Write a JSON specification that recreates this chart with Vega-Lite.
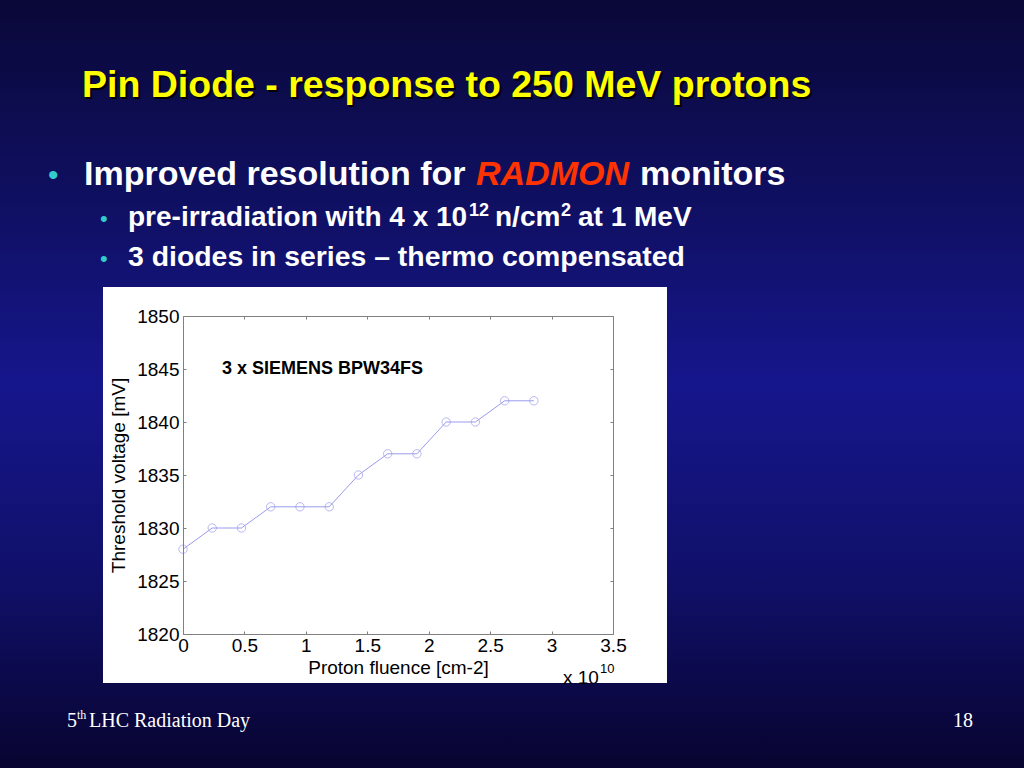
{
  "$schema": "https://vega.github.io/schema/vega-lite/v6.json",
  "width": 430,
  "height": 318,
  "autosize": "none",
  "padding": {"left": 183, "top": 316, "right": 411, "bottom": 134},
  "background": "#0c0c48",
  "config": {"view": {"stroke": null}},
  "data": {"values": [
    {"fluence": 0.0, "voltage": 1828},
    {"fluence": 0.238, "voltage": 1830},
    {"fluence": 0.476, "voltage": 1830},
    {"fluence": 0.714, "voltage": 1832},
    {"fluence": 0.952, "voltage": 1832},
    {"fluence": 1.19, "voltage": 1832},
    {"fluence": 1.428, "voltage": 1835},
    {"fluence": 1.666, "voltage": 1837},
    {"fluence": 1.904, "voltage": 1837},
    {"fluence": 2.142, "voltage": 1840},
    {"fluence": 2.38, "voltage": 1840},
    {"fluence": 2.618, "voltage": 1842},
    {"fluence": 2.856, "voltage": 1842}
  ]},
  "resolve": {"axis": {"x": "independent", "y": "independent"}},
  "layer": [
    {
      "data": {"values": [{}]},
      "mark": {"type": "rect", "fill": {"gradient": "linear", "x1": 0, "y1": 0, "x2": 0, "y2": 1, "stops": [
        {"offset": 0, "color": "#0a0838"},
        {"offset": 0.25, "color": "#0f0f60"},
        {"offset": 0.5, "color": "#16168c"},
        {"offset": 0.75, "color": "#10106a"},
        {"offset": 1, "color": "#080430"}
      ]}},
      "encoding": {
        "x": {"datum": -1.4895, "type": "quantitative", "axis": null, "scale": {"domain": [0, 3.5], "nice": false, "zero": false}},
        "x2": {"datum": 6.8453},
        "y": {"datum": 1879.81, "type": "quantitative", "axis": null, "scale": {"domain": [1820, 1850], "nice": false, "zero": false}},
        "y2": {"datum": 1807.36}
      }
    },
    {
      "data": {"values": [{}]},
      "mark": {"type": "rect", "fill": "#ffffff"},
      "encoding": {
        "x": {"datum": -0.6512, "type": "quantitative", "axis": null},
        "x2": {"datum": 3.9395},
        "y": {"datum": 1852.736, "type": "quantitative", "axis": null},
        "y2": {"datum": 1815.377}
      }
    },
    {
      "data": {"values": [{}]},
      "mark": {"type": "text", "text": "Pin Diode -  response to 250 MeV protons", "font": "Liberation Sans", "fontWeight": "bold", "fontSize": 37.5, "color": "#000000", "align": "left", "baseline": "alphabetic"},
      "encoding": {"x": {"datum": -0.8058, "type": "quantitative", "axis": null}, "y": {"datum": 1870.47, "type": "quantitative", "axis": null}}
    },
    {
      "data": {"values": [{}]},
      "mark": {"type": "text", "text": "Pin Diode -  response to 250 MeV protons", "font": "Liberation Sans", "fontWeight": "bold", "fontSize": 37.5, "color": "#ffff00", "align": "left", "baseline": "alphabetic"},
      "encoding": {"x": {"datum": -0.8221, "type": "quantitative", "axis": null}, "y": {"datum": 1870.66, "type": "quantitative", "axis": null}}
    },
    {
      "data": {"values": [{}]},
      "mark": {"type": "text", "text": "•", "font": "Liberation Sans", "fontSize": 30, "color": "#33cccc", "align": "left", "baseline": "alphabetic"},
      "encoding": {"x": {"datum": -1.0988, "type": "quantitative", "axis": null}, "y": {"datum": 1862.36, "type": "quantitative", "axis": null}}
    },
    {
      "data": {"values": [{}]},
      "mark": {"type": "text", "text": "Improved resolution for", "font": "Liberation Sans", "fontWeight": "bold", "fontSize": 34, "color": "#ffffff", "align": "left", "baseline": "alphabetic"},
      "encoding": {"x": {"datum": -0.8058, "type": "quantitative", "axis": null}, "y": {"datum": 1862.36, "type": "quantitative", "axis": null}}
    },
    {
      "data": {"values": [{}]},
      "mark": {"type": "text", "text": "RADMON", "font": "Liberation Sans", "fontWeight": "bold", "fontStyle": "italic", "fontSize": 34, "color": "#ff3300", "align": "left", "baseline": "alphabetic"},
      "encoding": {"x": {"datum": 2.3849, "type": "quantitative", "axis": null}, "y": {"datum": 1862.36, "type": "quantitative", "axis": null}}
    },
    {
      "data": {"values": [{}]},
      "mark": {"type": "text", "text": "monitors", "font": "Liberation Sans", "fontWeight": "bold", "fontSize": 34, "color": "#ffffff", "align": "left", "baseline": "alphabetic"},
      "encoding": {"x": {"datum": 3.7198, "type": "quantitative", "axis": null}, "y": {"datum": 1862.36, "type": "quantitative", "axis": null}}
    },
    {
      "data": {"values": [{}]},
      "mark": {"type": "text", "text": "•", "font": "Liberation Sans", "fontSize": 22, "color": "#33cccc", "align": "left", "baseline": "alphabetic"},
      "encoding": {"x": {"datum": -0.6756, "type": "quantitative", "axis": null}, "y": {"datum": 1858.49, "type": "quantitative", "axis": null}}
    },
    {
      "data": {"values": [{}]},
      "mark": {"type": "text", "text": "pre-irradiation with 4 x 10", "font": "Liberation Sans", "fontWeight": "bold", "fontSize": 28, "color": "#ffffff", "align": "left", "baseline": "alphabetic"},
      "encoding": {"x": {"datum": -0.4477, "type": "quantitative", "axis": null}, "y": {"datum": 1858.49, "type": "quantitative", "axis": null}}
    },
    {
      "data": {"values": [{}]},
      "mark": {"type": "text", "text": "12", "font": "Liberation Sans", "fontWeight": "bold", "fontSize": 18, "color": "#ffffff", "align": "left", "baseline": "alphabetic"},
      "encoding": {"x": {"datum": 2.3279, "type": "quantitative", "axis": null}, "y": {"datum": 1859.43, "type": "quantitative", "axis": null}}
    },
    {
      "data": {"values": [{}]},
      "mark": {"type": "text", "text": "n/cm", "font": "Liberation Sans", "fontWeight": "bold", "fontSize": 28, "color": "#ffffff", "align": "left", "baseline": "alphabetic"},
      "encoding": {"x": {"datum": 2.5395, "type": "quantitative", "axis": null}, "y": {"datum": 1858.49, "type": "quantitative", "axis": null}}
    },
    {
      "data": {"values": [{}]},
      "mark": {"type": "text", "text": "2", "font": "Liberation Sans", "fontWeight": "bold", "fontSize": 18, "color": "#ffffff", "align": "left", "baseline": "alphabetic"},
      "encoding": {"x": {"datum": 3.0767, "type": "quantitative", "axis": null}, "y": {"datum": 1859.43, "type": "quantitative", "axis": null}}
    },
    {
      "data": {"values": [{}]},
      "mark": {"type": "text", "text": "at 1 MeV", "font": "Liberation Sans", "fontWeight": "bold", "fontSize": 28, "color": "#ffffff", "align": "left", "baseline": "alphabetic"},
      "encoding": {"x": {"datum": 3.2151, "type": "quantitative", "axis": null}, "y": {"datum": 1858.49, "type": "quantitative", "axis": null}}
    },
    {
      "data": {"values": [{}]},
      "mark": {"type": "text", "text": "•", "font": "Liberation Sans", "fontSize": 22, "color": "#33cccc", "align": "left", "baseline": "alphabetic"},
      "encoding": {"x": {"datum": -0.6756, "type": "quantitative", "axis": null}, "y": {"datum": 1854.72, "type": "quantitative", "axis": null}}
    },
    {
      "data": {"values": [{}]},
      "mark": {"type": "text", "text": "3 diodes in series – thermo compensated", "font": "Liberation Sans", "fontWeight": "bold", "fontSize": 28.4, "color": "#ffffff", "align": "left", "baseline": "alphabetic"},
      "encoding": {"x": {"datum": -0.4477, "type": "quantitative", "axis": null}, "y": {"datum": 1854.72, "type": "quantitative", "axis": null}}
    },
    {
      "data": {"values": [{}]},
      "mark": {"type": "text", "text": "3 x SIEMENS BPW34FS", "font": "Liberation Sans", "fontWeight": "bold", "fontSize": 18, "color": "#000000", "align": "left", "baseline": "alphabetic"},
      "encoding": {"x": {"datum": 0.3174, "type": "quantitative", "axis": null}, "y": {"datum": 1844.53, "type": "quantitative", "axis": null}}
    },
    {
      "data": {"values": [{}]},
      "mark": {"type": "text", "text": "x 10", "font": "Liberation Sans", "fontSize": 19, "color": "#000000", "align": "left", "baseline": "alphabetic"},
      "encoding": {"x": {"datum": 3.093, "type": "quantitative", "axis": null}, "y": {"datum": 1815.28, "type": "quantitative", "axis": null}}
    },
    {
      "data": {"values": [{}]},
      "mark": {"type": "text", "text": "10", "font": "Liberation Sans", "fontSize": 13, "color": "#000000", "align": "left", "baseline": "alphabetic"},
      "encoding": {"x": {"datum": 3.3942, "type": "quantitative", "axis": null}, "y": {"datum": 1816.32, "type": "quantitative", "axis": null}}
    },
    {
      "data": {"values": [{}]},
      "mark": {"type": "text", "text": "5", "font": "Liberation Serif", "fontSize": 20, "color": "#ffffff", "align": "left", "baseline": "alphabetic"},
      "encoding": {"x": {"datum": -0.9442, "type": "quantitative", "axis": null}, "y": {"datum": 1811.23, "type": "quantitative", "axis": null}}
    },
    {
      "data": {"values": [{}]},
      "mark": {"type": "text", "text": "th", "font": "Liberation Serif", "fontSize": 12, "color": "#ffffff", "align": "left", "baseline": "alphabetic"},
      "encoding": {"x": {"datum": -0.8628, "type": "quantitative", "axis": null}, "y": {"datum": 1812.0, "type": "quantitative", "axis": null}}
    },
    {
      "data": {"values": [{}]},
      "mark": {"type": "text", "text": "LHC Radiation Day", "font": "Liberation Serif", "fontSize": 20, "color": "#ffffff", "align": "left", "baseline": "alphabetic"},
      "encoding": {"x": {"datum": -0.7651, "type": "quantitative", "axis": null}, "y": {"datum": 1811.23, "type": "quantitative", "axis": null}}
    },
    {
      "data": {"values": [{}]},
      "mark": {"type": "text", "text": "18", "font": "Liberation Serif", "fontSize": 20, "color": "#ffffff", "align": "left", "baseline": "alphabetic"},
      "encoding": {"x": {"datum": 6.2674, "type": "quantitative", "axis": null}, "y": {"datum": 1811.23, "type": "quantitative", "axis": null}}
    },
    {
      "mark": {"type": "line", "color": "#9a9aee", "strokeWidth": 1},
      "encoding": {
        "x": {"field": "fluence", "type": "quantitative", "title": "Proton fluence [cm-2]",
          "axis": {"orient": "bottom", "zindex": 1, "values": [0, 0.5, 1, 1.5, 2, 2.5, 3, 3.5], "format": "~g", "grid": false, "labelFlush": false,
            "domainColor": "#808080", "tickColor": "#808080", "tickSize": -3, "labelPadding": 5,
            "labelFont": "Liberation Sans", "labelFontSize": 19, "labelColor": "#000000",
            "titleFont": "Liberation Sans", "titleFontSize": 19, "titleFontWeight": "normal", "titleColor": "#000000", "titlePadding": 3}},
        "y": {"field": "voltage", "type": "quantitative", "title": "Threshold voltage [mV]",
          "axis": {"orient": "left", "zindex": 1, "values": [1820, 1825, 1830, 1835, 1840, 1845, 1850], "format": "d", "grid": false, "labelFlush": false,
            "domainColor": "#808080", "tickColor": "#808080", "tickSize": -3, "labelPadding": 7,
            "labelFont": "Liberation Sans", "labelFontSize": 19, "labelColor": "#000000",
            "titleFont": "Liberation Sans", "titleFontSize": 19, "titleFontWeight": "normal", "titleColor": "#000000", "titlePadding": 8}}
      }
    },
    {
      "mark": {"type": "point", "shape": "circle", "filled": false, "color": "#9a9aee", "strokeWidth": 1, "size": 70},
      "encoding": {
        "x": {"field": "fluence", "type": "quantitative",
          "axis": {"orient": "top", "zindex": 1, "values": [0, 0.5, 1, 1.5, 2, 2.5, 3, 3.5], "labels": false, "title": null, "grid": false,
            "domainColor": "#808080", "tickColor": "#808080", "tickSize": -3}},
        "y": {"field": "voltage", "type": "quantitative",
          "axis": {"orient": "right", "zindex": 1, "values": [1820, 1825, 1830, 1835, 1840, 1845, 1850], "labels": false, "title": null, "grid": false,
            "domainColor": "#808080", "tickColor": "#808080", "tickSize": -3}}
      }
    }
  ]
}
